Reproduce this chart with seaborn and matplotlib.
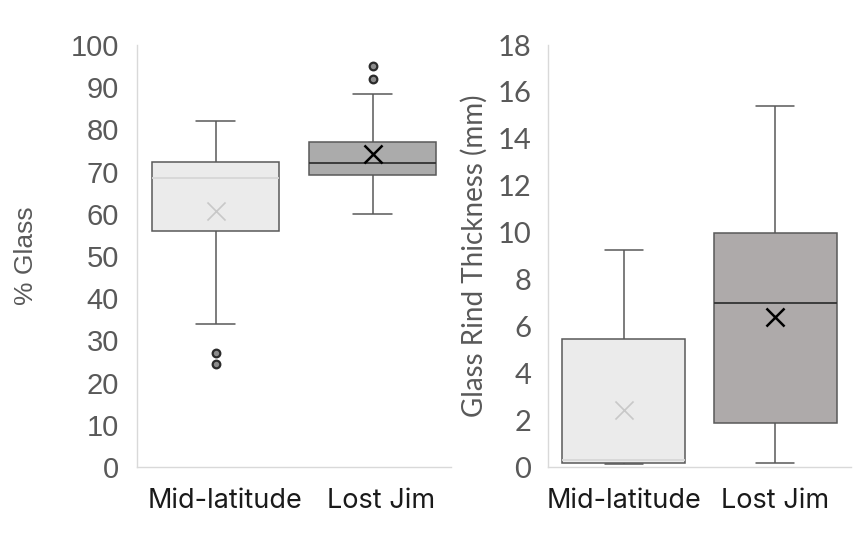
import matplotlib
matplotlib.use("Agg")
import matplotlib.pyplot as plt
import matplotlib.transforms as mtransforms
import seaborn as sns
import pandas as pd
import numpy as np

# ---- data (five-number summaries) ----
categories = ["Mid-latitude", "Lost Jim"]

# % Glass: [lower whisker, Q1, median, Q3, upper whisker]
glass_mid = [33.9, 55.9, 68.6, 72.3, 82.1]
glass_lost = [60.0, 69.1, 72.1, 77.0, 88.3]
glass_means = [60.7, 74.2]
glass_out_mid = [27.1, 24.3]
glass_out_lost = [95.0, 91.9]

# Glass rind thickness (mm)
rind_mid = [0.12, 0.16, 0.30, 5.47, 9.24]
rind_lost = [0.16, 1.89, 6.98, 10.0, 15.39]
rind_means = [2.43, 6.39]

glass_ticks = [0, 10, 20, 30, 40, 50, 60, 70, 80, 90, 100]
rind_ticks = [0, 2, 4, 6, 8, 10, 12, 14, 16, 18]

sns.set_style("white")

W, H = 857, 539
fig = plt.figure(figsize=(W / 100, H / 100), dpi=100)
axL = fig.add_axes([137 / W, 1 - 467 / H, 314 / W, 422 / H])
axR = fig.add_axes([548 / W, 1 - 467 / H, 303 / W, 422 / H])

EDGE = "#595959"
BOX_W = 0.81
CAP_W = 0.25
styles = {
    "Mid-latitude": dict(fill="#EBEBEB", med="#D6D6D6", mean="#C8C8C8", mlw=1.2),
    "Lost Jim": dict(fill="#ABABAB", med="#333333", mean="#000000", mlw=1.8),
}


def shrink_caps(ax):
    # make whisker caps narrower (style only)
    for cont in ax.containers:
        for ln in getattr(cont, "caps", []) or []:
            xd = np.asarray(ln.get_xdata(), dtype=float).ravel()
            yd = np.asarray(ln.get_ydata(), dtype=float).ravel()
            c = xd.mean()
            ln.set_data([c - CAP_W / 2, c + CAP_W / 2], yd)


def draw(ax, series, means, fill_lost, outliers=None):
    for cat, vals in zip(categories, series):
        st = styles[cat]
        fc = st["fill"] if cat == "Mid-latitude" else fill_lost
        df = pd.DataFrame({"group": [cat] * len(vals), "value": vals})
        sns.boxplot(
            data=df, x="group", y="value", order=categories, ax=ax,
            whis=(0, 100), width=BOX_W, color=fc, saturation=1,
            linecolor=EDGE, linewidth=1.1, showfliers=False,
            medianprops=dict(color=st["med"], linewidth=1.3),
        )
    shrink_caps(ax)
    if outliers is not None:
        rows = [(c, v) for c, vs in zip(categories, outliers) for v in vs]
        odf = pd.DataFrame(rows, columns=["group", "value"])
        sns.stripplot(
            data=odf, x="group", y="value", order=categories, ax=ax,
            jitter=False, marker="o", size=5.5, color="#8c8c8c",
            edgecolor="#2b2b2b", linewidth=1.6,
        )
    for cat, m in zip(categories, means):
        st = styles[cat]
        mdf = pd.DataFrame({"group": [cat], "value": [m]})
        sns.stripplot(
            data=mdf, x="group", y="value", order=categories, ax=ax,
            jitter=False, marker="x", size=13, color=st["mean"],
            linewidth=st["mlw"],
        )
    ax.set_xlim(-0.5, 1.5)
    ax.set_xlabel("")
    for s in ["top", "right"]:
        ax.spines[s].set_visible(False)
    for s in ["left", "bottom"]:
        ax.spines[s].set_color("#D9D9D9")
        ax.spines[s].set_linewidth(1.0)
    ax.tick_params(length=0)


draw(axL, [glass_mid, glass_lost], glass_means, "#ABABAB",
     outliers=[glass_out_mid, glass_out_lost])
draw(axR, [rind_mid, rind_lost], rind_means, "#AEAAAA")

# left axis
axL.set_ylim(0, 100)
axL.set_yticks(glass_ticks)
axL.set_yticklabels([str(t) for t in glass_ticks], family="Liberation Sans",
                    fontsize=21, color="#595959")
axL.tick_params(axis="y", pad=13)
axL.set_ylabel("% Glass", family="Liberation Sans", fontsize=19, color="#595959")
axL.yaxis.set_label_coords(-0.315, 0.5)

# right axis
axR.set_ylim(0, 18)
axR.set_yticks(rind_ticks)
axR.set_yticklabels([str(t) for t in rind_ticks], family="Lato",
                    fontsize=21, color="#595959")
axR.tick_params(axis="y", pad=12)
axR.set_ylabel("Glass Rind Thickness (mm)", family="Lato", fontsize=20,
               color="#595959")
axR.yaxis.set_label_coords(-0.20, 0.5)

for ax in (axL, axR):
    ax.set_xticks(range(len(categories)))
    ax.set_xticklabels(categories, family="Inter", fontsize=19.5, color="#1a1a1a")
    ax.tick_params(axis="x", pad=15)

# left-panel category labels sit slightly right of the box centres
shift = mtransforms.ScaledTranslation(9 / 100, 0, fig.dpi_scale_trans)
for lab in axL.get_xticklabels():
    lab.set_transform(lab.get_transform() + shift)

fig.savefig("out.png", dpi=100)
